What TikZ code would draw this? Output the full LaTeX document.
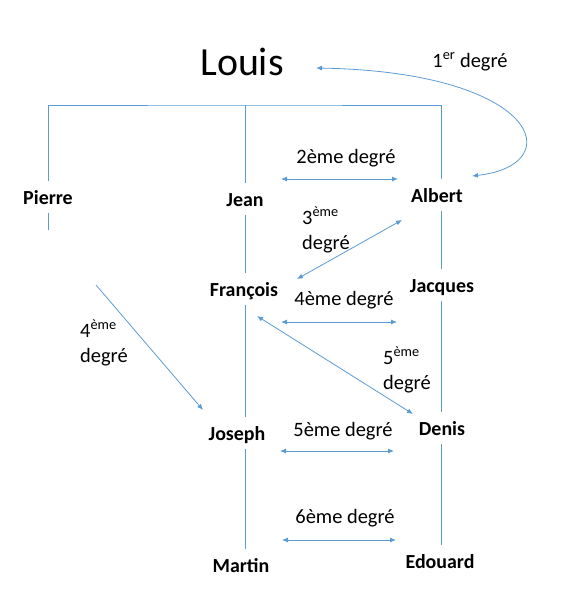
\documentclass[tikz,border=0pt]{standalone}
\usepackage{fontspec}
\setmainfont{Carlito}
\usetikzlibrary{arrows.meta}
\definecolor{lineblue}{HTML}{5B9BD5}
\begin{document}
\begin{tikzpicture}[x=1bp,y=-1bp,
  person/.style={font=\bfseries\fontsize{20}{24}\selectfont, text height=14bp, text depth=0bp, inner sep=9bp},
  lbl/.style={font=\fontsize{20.5}{25}\selectfont, inner sep=0pt, align=left},
  link/.style={draw=lineblue, line width=0.8bp},
  dbl/.style={link, {Latex[length=6bp,width=5bp]}-{Latex[length=6bp,width=5bp]}},
  one/.style={link, -{Latex[length=6bp,width=5bp]}}]
\useasboundingbox (0,0) rectangle (568,600);
% people
\node[font=\fontsize{40}{48}\selectfont, inner sep=0pt] (louis) at (242,62) {Louis};
\node[person] (pierre) at (48,197) {Pierre};
\node[person] (jean) at (245,199) {Jean};
\node[person] (albert) at (437,195) {Albert};
\node[person] (francois) at (244,289) {François};
\node[person] (jacques) at (442,285) {Jacques};
\node[person] (joseph) at (237,433) {Joseph};
\node[person] (denis) at (442,428) {Denis};
\node[person] (martin) at (241,565) {Martin};
\node[person] (edouard) at (440,561) {Edouard};
% columns
\coordinate (colL) at (245,0);
\coordinate (colR) at (441,0);
\coordinate (bar) at (245,105);
% family tree lines
\draw[link] (pierre.north) |- (bar) -| (albert.north -| colR);
\draw[link] (bar) -- (jean.north -| colL);
\draw[link] (pierre.south) -- ++(0,17);
\draw[link] (jean.south -| colL) -- (francois.north -| colL);
\draw[link] (francois.south -| colL) -- (joseph.north -| colL);
\draw[link] (joseph.south -| colL) -- (martin.north -| colL);
\draw[link] (albert.south -| colR) -- (jacques.north -| colR);
\draw[link] (jacques.south -| colR) -- (denis.north -| colR);
\draw[link] (denis.south -| colR) -- (edouard.north -| colR);
% arrow end points
\coordinate (a1s) at (316,68);  \coordinate (a1e) at (472,176);
\coordinate (a2s) at (281,179); \coordinate (a2e) at (398,179);
\coordinate (a3s) at (402,220); \coordinate (a3e) at (297,279);
\coordinate (a4s) at (281,322); \coordinate (a4e) at (397,322);
\coordinate (a5s) at (257,316); \coordinate (a5e) at (413,414);
\coordinate (aPs) at (96,285);  \coordinate (aPe) at (203,410);
\coordinate (a5hs) at (280,451); \coordinate (a5he) at (394,451);
\coordinate (a6s) at (282,540); \coordinate (a6e) at (396,540);
% degree arrows
\draw[dbl] (a1s) .. controls (540,72) and (570,165) .. (a1e);
\draw[dbl] (a2s) -- (a2e);
\draw[dbl] (a3s) -- (a3e);
\draw[dbl] (a4s) -- (a4e);
\draw[dbl] (a5s) -- (a5e);
\draw[one] (aPs) -- (aPe);
\draw[dbl] (a5hs) -- (a5he);
\draw[dbl] (a6s) -- (a6e);
% labels
\node[lbl] (l1) at (470,62) {1\textsuperscript{er} degré};
\node[lbl] (l2) at (346,158) {2ème degré};
\node[lbl, anchor=west] (l3) at (302,230) {3\textsuperscript{ème}\\degré};
\node[lbl] (l4) at (344,300) {4ème degré};
\node[lbl, anchor=west] (l4b) at (80,343) {4\textsuperscript{ème}\\degré};
\node[lbl, anchor=west] (l5b) at (383,370) {5\textsuperscript{ème}\\degré};
\node[lbl] (l5) at (343,431) {5ème degré};
\node[lbl] (l6) at (345,518) {6ème degré};
\end{tikzpicture}
\end{document}
